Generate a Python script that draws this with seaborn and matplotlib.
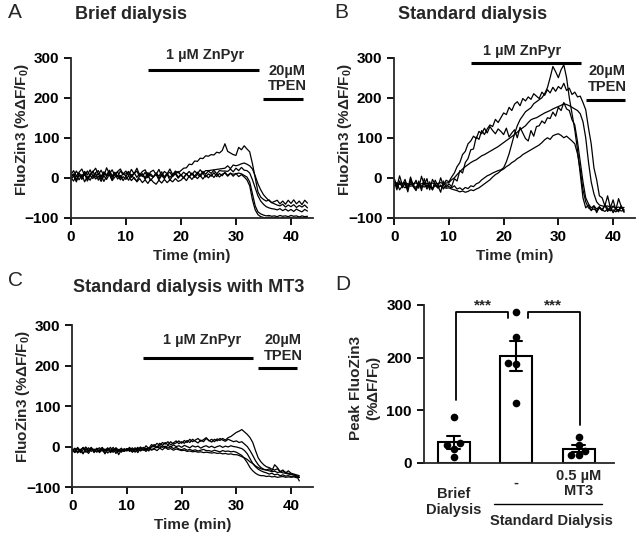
import matplotlib
matplotlib.use("Agg")
import matplotlib.pyplot as plt
import matplotlib.transforms as mtransforms
import numpy as np
import pandas as pd
import seaborn as sns

# traces every 0.5 min
STEP = 0.5

# -- A: brief dialysis (t = 0 .. 43 min) --
BRIEF_TRACES = [
    [8, 18, 4, 14, 22, 6, 17, 5, 15, 24,
     8, 19, 5, 25, 10, 20, 6, 16, 22, 9,
     17, 5, 21, 10, 24, 7, 16, 20, 6, 15,
     19, 8, 21, 5, 16, 10, 22, 8, 17, 12,
     18, 24, 25, 34, 33, 42, 41, 49, 48, 55,
     54, 58, 57, 64, 62, 68, 85, 66, 62, 58,
     56, 76, 70, 80, 72, 65, 35, 0, -35, -48,
     -54, -58, -55, -62, -59, -56, -65, -58, -66, -56,
     -64, -55, -65, -58, -67, -56, -63],
    [2, 10, -5, 12, 3, 14, -2, 9, 17, 2,
     11, -4, 13, 4, 16, 1, 10, 15, -1, 12,
     4, 14, 1, 11, 17, 3, 10, 0, 13, 5,
     2, 12, 4, 15, 1, 10, 14, 3, 11, 16,
     6, 14, 8, 16, 7, 17, 10, 20, 12, 18,
     18, 19, 20, 21, 22, 23, 24, 30, 23, 32,
     30, 32, 35, 37, 34, 30, 22, 5, -15, -30,
     -42, -50, -57, -62, -65, -68, -70, -66, -73, -68,
     -72, -67, -74, -69, -73, -68, -75],
    [-5, 5, -10, 8, -4, 10, -8, 6, -2, 12,
     -6, 7, -9, 4, 9, -5, 11, -3, 6, -7,
     4, -6, 8, -2, -8, 5, 10, -4, 7, -7,
     3, 8, -5, 6, -2, 9, -6, 5, 10, -1,
     7, 0, 10, 2, 12, 4, 14, 7, 16, 9,
     17, 11, 19, 10, 18, 17, 17, 16, 22, 15,
     24, 18, 26, 19, 18, 12, -5, -25, -45, -58,
     -66, -72, -75, -77, -78, -80, -77, -82, -78, -83,
     -79, -84, -78, -82, -85, -79, -83],
    [0, -8, 6, -5, 8, -10, 3, -6, 7, -3,
     4, -9, 5, -4, 9, -7, 2, 6, -5, 3,
     -4, 5, -7, 1, -10, -2, -12, -5, -14, -3,
     -11, -16, -6, -13, -4, -12, -5, -10, -2, -9,
     -6, 1, -7, 4, -4, 5, -2, 6, -3, 7,
     0, 8, 1, 10, 2, 9, 12, 4, 11, 9,
     10, 12, 10, 6, 2, -10, -40, -70, -85, -90,
     -93, -95, -94, -96, -95, -97, -94, -96, -95, -97,
     -94, -96, -95, -98, -95, -97, -96],
    [12, 3, 17, 6, 1, 16, 7, 20, 4, 13,
     18, 2, 15, 7, 19, 5, 14, 3, 17, 8,
     10, 16, 4, 13, 1, 11, 3, 14, 0, 10,
     2, 12, -1, 9, 3, 11, 1, 8, 13, 2,
     8, 0, 10, 2, 11, 1, 9, 3, 12, 2,
     10, 4, 13, 3, 11, 5, 14, 6, 12, 4,
     11, 3, 8, 2, -5, -20, -55, -80, -92, -97,
     -99, -100, -98, -101, -99, -100, -102, -99, -101, -100,
     -99, -101, -100, -98, -101, -99, -100],
]

# -- B: standard dialysis (t = 0 .. 42 min) --
STANDARD_TRACES = [
    [-5, -30, -8, -25, -12, -35, -3, -22, -28, -8,
     -32, -2, -24, -10, -30, -6, -20, -36, -8, -24,
     -15, -22, -2, -8, 18, 12, 38, 48, 70, 72,
     102, 96, 118, 108, 122, 132, 128, 146, 138, 150,
     162, 158, 176, 168, 184, 190, 180, 198, 192, 202,
     196, 210, 204, 198, 214, 206, 220, 212, 226, 216,
     228, 222, 236, 218, 224, 208, 214, 202, 204, 188,
     170, 125, 85, 25, -5, -45, -50, -70, -45, -75,
     -55, -80, -52, -72, -85],
    [-20, -12, -30, -20, -16, -28, -10, -22, -32, -15,
     -24, -13, -28, -18, -30, -16, -26, -18, -28, -17,
     -22, -25, -20, -28, -25, -30, -24, -27, -20, -22,
     -15, -12, -5, 0, 5, 8, 12, 15, 18, 20,
     25, 40, 60, 85, 110, 130, 145, 155, 165, 170,
     175, 185, 190, 195, 200, 210, 225, 250, 278, 265,
     250, 270, 282, 250, 200, 160, 120, 70, 10, -50,
     -75, -68, -82, -70, -87, -73, -82, -68, -84, -74,
     -87, -76, -82, -70, -86],
    [-15, -13, -16, -14, -12, -15, -17, -14, -13, -16,
     -15, -12, -14, -16, -13, -15, -14, -12, -15, -13,
     -12, -5, 0, 8, 15, 22, 28, 33, 38, 42,
     45, 50, 55, 58, 62, 66, 70, 74, 78, 83,
     88, 93, 98, 103, 108, 114, 120, 125, 130, 138,
     145, 148, 150, 154, 158, 162, 165, 168, 172, 175,
     178, 181, 185, 183, 180, 176, 172, 168, 160, 140,
     100, 40, -10, -40, -60, -68, -70, -72, -70, -74,
     -72, -75, -73, -76, -74],
    [0, -22, 5, -18, -4, -28, 2, -20, -6, -26,
     4, -18, -2, -30, -4, -16, -24, 0, -20, -6,
     -10, 2, 12, 28, 38, 58, 66, 85, 92, 104,
     98, 116, 110, 124, 112, 128, 118, 110, 122, 116,
     108, 124, 102, 112, 120, 100, 126, 112, 98, 92,
     118, 104, 128, 130, 142, 136, 150, 148, 164, 154,
     176, 168, 188, 172, 168, 145, 132, 90, 40, -10,
     -50, -65, -75, -70, -78, -72, -80, -68, -76, -82,
     -70, -78, -85, -72, -80],
    [-18, -22, -15, -20, -25, -17, -21, -19, -24, -16,
     -20, -23, -18, -22, -25, -20, -24, -21, -23, -26,
     -25, -28, -30, -32, -35, -33, -36, -34, -30, -32,
     -28, -25, -20, -15, -10, -5, 2, 8, 12, 18,
     22, 28, 32, 38, 42, 48, 52, 58, 62, 66,
     70, 74, 78, 82, 88, 95, 100, 96, 105, 108,
     110, 106, 100, 104, 98, 92, 85, 60, 20, -30,
     -60, -75, -80, -78, -82, -76, -80, -84, -78, -82,
     -80, -85, -79, -83, -81],
]

# -- C: standard dialysis with MT3 (t = 0 .. 41.5 min) --
MT3_TRACES = [
    [-8, -14, -2, -10, -18, -5, -12, -3, -15, -7,
     -11, -4, -16, -9, -2, -13, -6, -20, -8, -12,
     -5, -10, -3, -14, -7, -1, -9, -4, -11, 0,
     5, -2, 8, 3, 10, 4, 12, 6, 9, 14,
     8, 15, 10, 18, 12, 16, 20, 13, 17, 22,
     14, 18, 12, 19, 15, 20, 16, 22, 25, 30,
     35, 38, 42, 36, 30, 22, 10, -10, -28, -38,
     -45, -50, -52, -56, -58, -55, -62, -60, -64, -66,
     -68, -70, -72, -76],
    [-12, -5, -16, -8, -3, -14, -9, -2, -11, -6,
     -15, -7, -10, -3, -13, -6, -17, -9, -4, -12,
     -8, -2, -12, -6, -15, -4, -8, 2, -5, 5,
     0, 8, 3, 10, 6, 12, 4, 9, 14, 7,
     12, 8, 15, 10, 18, 13, 9, 16, 12, 20,
     15, 11, 18, 14, 20, 16, 13, 18, 15, 12,
     14, 10, 12, 6, 0, -10, -22, -35, -45, -52,
     -56, -58, -55, -60, -45, -52, -62, -58, -65, -60,
     -66, -68, -70, -72],
    [-6, -12, -4, -15, -8, -1, -10, -5, -13, -7,
     -3, -11, -6, -16, -9, -2, -12, -7, -14, -5,
     -10, -4, -13, -8, -2, -11, -6, -9, -3, -7,
     -5, 0, -4, 2, -3, 3, -1, 4, 0, 2,
     -2, 3, 0, -3, 2, -1, 1, -4, 0, 2,
     -2, 1, -3, 0, 2, -2, 1, -1, 2, 0,
     -1, -3, -5, -10, -18, -30, -42, -50, -56, -60,
     -63, -65, -68, -66, -70, -68, -72, -70, -73, -72,
     -74, -73, -75, -76],
    [-10, -4, -13, -7, -16, -9, -3, -12, -6, -14,
     -8, -2, -11, -5, -15, -9, -4, -13, -7, -10,
     -5, -12, -8, -3, -10, -6, -2, -8, -4, -1,
     0, -3, 2, -2, 1, -4, 0, -5, -2, -6,
     -8, -5, -9, -7, -10, -8, -11, -9, -7, -10,
     -10, -12, -9, -11, -13, -10, -12, -11, -13, -12,
     -14, -18, -22, -30, -40, -52, -60, -66, -70, -72,
     -72, -74, -73, -75, -74, -76, -75, -74, -76, -75,
     -76, -75, -77, -76],
    [-9, -15, -5, -12, -2, -10, -17, -6, -11, -4,
     -13, -8, -18, -5, -10, -14, -3, -9, -12, -7,
     -11, -6, -14, -8, -4, -10, -7, -12, -5, -9,
     -6, -10, -4, -8, -2, -7, -5, -9, -6, -8,
     -10, -9, -12, -11, -13, -12, -14, -13, -15, -14,
     -15, -16, -15, -17, -16, -18, -17, -19, -18, -20,
     -20, -22, -25, -28, -32, -38, -42, -48, -52, -55,
     -57, -58, -60, -62, -61, -64, -63, -65, -66, -68,
     -69, -70, -72, -85],
]

# -- D: peak responses per cell --
GROUPS = ["Brief", "Standard", "MT3"]
PEAK_BRIEF = [87, 37, 35, 27, 11]
PEAK_STANDARD = [287, 240, 189, 187, 113]
PEAK_MT3 = [50, 34, 23, 15, 15]

sns.set_style("ticks")
plt.rcParams["font.family"] = ["Liberation Sans", "DejaVu Sans"]
plt.rcParams["font.weight"] = "bold"
plt.rcParams["axes.labelweight"] = "bold"
plt.rcParams["mathtext.default"] = "regular"
plt.rcParams["axes.linewidth"] = 1.3
for ax_name in ("xtick", "ytick"):
    plt.rcParams[f"{ax_name}.major.width"] = 1.3
    plt.rcParams[f"{ax_name}.major.size"] = 5
    plt.rcParams[f"{ax_name}.labelsize"] = 11
    plt.rcParams[f"{ax_name}.color"] = "black"

YLABEL = "FluoZin3 (%ΔF/F$_0$)"


def trace_frame(traces):
    parts = []
    for k, vals in enumerate(traces):
        parts.append(pd.DataFrame({
            "time": np.arange(len(vals)) * STEP,
            "value": vals,
            "cell": k,
        }))
    return pd.concat(parts, ignore_index=True)


def trace_panel(ax, traces, zn, tpen):
    df = trace_frame(traces)
    sns.lineplot(data=df, x="time", y="value", units="cell", estimator=None,
                 color="black", linewidth=0.9, ax=ax)
    ax.set_xlim(0, 44)
    ax.set_ylim(-100, 300)
    ax.set_xticks([0, 10, 20, 30, 40])
    ax.set_yticks([-100, 0, 100, 200, 300])
    ax.set_xlabel("Time (min)", fontsize=11)
    ax.set_ylabel(YLABEL, fontsize=11)
    ax.yaxis.set_label_coords(-0.165, 0.555)
    sns.despine(ax=ax)

    # drug application bars
    x0, x1, y, tx, ty = zn
    ax.plot([x0, x1], [y, y], color="black", lw=2.2, clip_on=False,
            solid_capstyle="butt")
    ax.text(tx, ty, "1 µM ZnPyr", ha="center", va="center", fontsize=10.5,
            fontweight="bold", clip_on=False)
    x0, x1, y, tx, ty = tpen
    ax.plot([x0, x1], [y, y], color="black", lw=2.2, clip_on=False,
            solid_capstyle="butt")
    ax.text(tx, ty, "20µM\nTPEN", ha="center", va="center", fontsize=10.5,
            fontweight="bold", linespacing=1.15, clip_on=False)


fig = plt.figure(figsize=(6.44, 5.34), dpi=100)

ax_a = fig.add_axes([0.110, 0.592, 0.376, 0.300])
ax_b = fig.add_axes([0.612, 0.592, 0.374, 0.300])
ax_c = fig.add_axes([0.112, 0.088, 0.374, 0.303])
ax_d = fig.add_axes([0.658, 0.133, 0.295, 0.296])

trace_panel(ax_a, BRIEF_TRACES, (14, 34.1, 270, 24.4, 307), (35, 42.2, 197, 39.3, 248))
trace_panel(ax_b, STANDARD_TRACES, (14, 34.1, 287, 23.3, 316), (35, 42.2, 195, 38.9, 246))
trace_panel(ax_c, MT3_TRACES, (13, 33, 219, 23.7, 263), (34, 41, 195, 38.5, 244))
ax_b.yaxis.set_label_coords(-0.166, 0.555)
ax_c.yaxis.set_label_coords(-0.165, 0.56)

# ── D: bar chart with individual cells ──
peaks = pd.DataFrame({
    "group": [GROUPS[0]] * len(PEAK_BRIEF) + [GROUPS[1]] * len(PEAK_STANDARD)
    + [GROUPS[2]] * len(PEAK_MT3),
    "peak": PEAK_BRIEF + PEAK_STANDARD + PEAK_MT3,
})
sns.barplot(data=peaks, x="group", y="peak", order=GROUPS, errorbar="se",
            capsize=0.2, color="white", edgecolor="black", linewidth=1.5,
            width=0.51, saturation=1,
            err_kws={"color": "black", "linewidth": 1.5}, ax=ax_d)
sns.swarmplot(data=peaks, x="group", y="peak", order=GROUPS, color="black",
              size=5.5, ax=ax_d, zorder=5)
ax_d.set_xlim(-0.48, 2.56)
ax_d.set_ylim(0, 300)
ax_d.set_yticks([0, 100, 200, 300])
ax_d.set_xticks([])
ax_d.set_xlabel("")
ax_d.set_ylabel("Peak FluoZin3\n(%ΔF/F$_0$)", fontsize=11, linespacing=1.1)
ax_d.yaxis.set_label_coords(-0.216, 0.475)
sns.despine(ax=ax_d)


def bracket(ax, x0, x1, top, left_end, right_end):
    ax.plot([x0, x0, x1, x1], [left_end, top, top, right_end], color="black",
            lw=1.3, clip_on=False)


bracket(ax_d, 0.03, 0.87, 287, 120, 275)
bracket(ax_d, 1.19, 2.02, 287, 275, 72)
ax_d.text(0.47, 298, "***", ha="center", va="center", fontsize=11, clip_on=False)
ax_d.text(1.59, 298, "***", ha="center", va="center", fontsize=11, clip_on=False)

trans = mtransforms.blended_transform_factory(ax_d.transData, ax_d.transAxes)
ax_d.text(0, -0.247, "Brief\nDialysis", transform=trans, ha="center",
          va="center", fontsize=10.5, linespacing=1.15)
ax_d.text(1, -0.127, "-", transform=trans, ha="center", va="center", fontsize=10.5)
ax_d.text(2, -0.13, "0.5 µM\nMT3", transform=trans, ha="center", va="center",
          fontsize=10.5, linespacing=1.15)
ax_d.plot([0.64, 2.38], [-0.26, -0.26], transform=trans, color="black", lw=1.0,
          clip_on=False)
ax_d.text(1.57, -0.367, "Standard Dialysis", transform=trans, ha="center",
          va="center", fontsize=10.5)

# ── titles and panel letters ──
fig.text(0.1165, 0.972, "Brief dialysis", fontsize=13, fontweight="bold", va="center")
fig.text(0.618, 0.972, "Standard dialysis", fontsize=13, fontweight="bold", va="center")
fig.text(0.113, 0.461, "Standard dialysis with MT3", fontsize=13, fontweight="bold",
         va="center")
for letter, x, y in [("A", 8, 13), ("B", 334, 13), ("C", 8, 280), ("D", 335, 285)]:
    fig.text(x / 644, 1 - y / 534, letter, fontsize=15, fontweight="normal",
             va="center", ha="left")

fig.savefig("out.png", dpi=100)
